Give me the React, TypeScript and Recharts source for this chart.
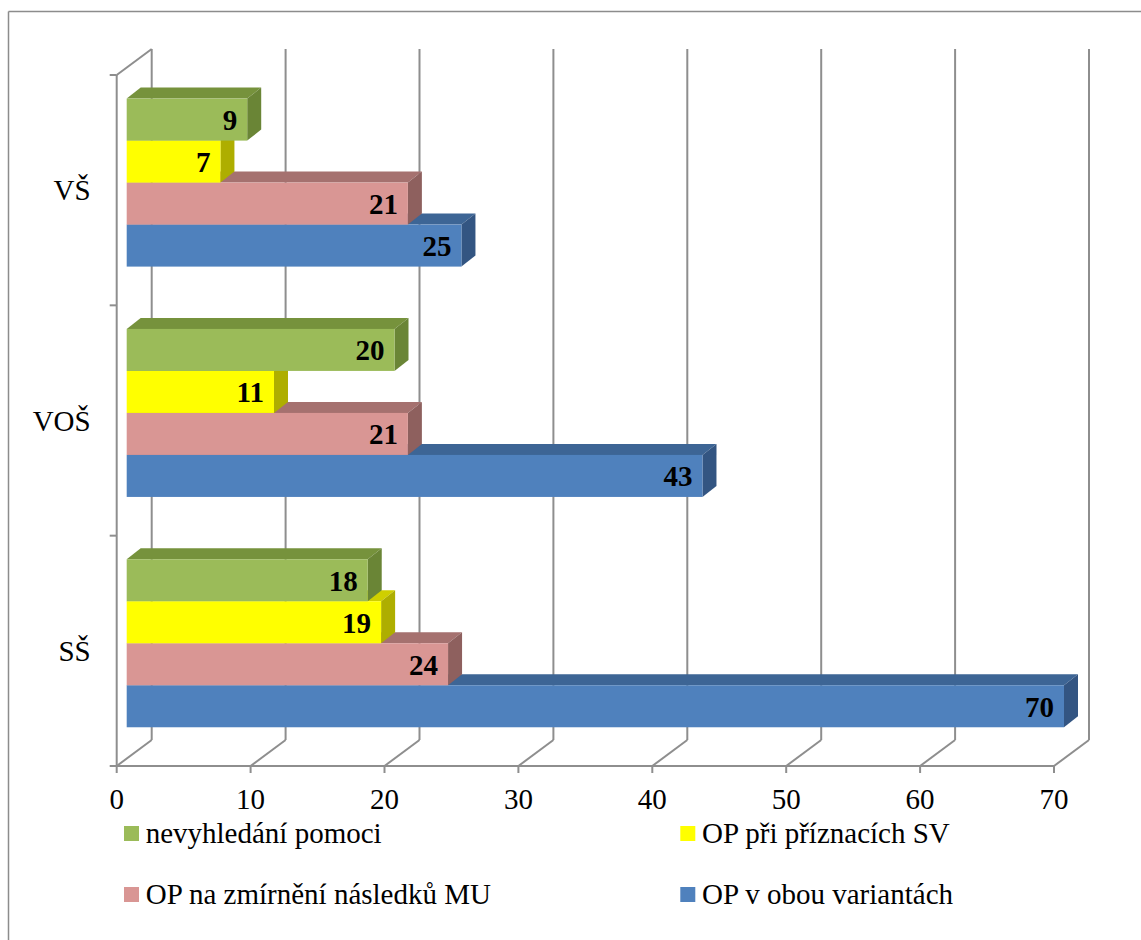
import React from "react";
import { BarChart, Bar, XAxis, YAxis, CartesianGrid, LabelList } from "recharts";

const CATEGORIES = ["VŠ", "VOŠ", "SŠ"];
const NEVYHLEDANI = [9, 20, 18];
const PRI_PRIZNACICH = [7, 11, 19];
const ZMIRNENI = [21, 21, 24];
const OBOU_VARIANTY = [25, 43, 70];
const X_TICKS = [0, 10, 20, 30, 40, 50, 60, 70];

const SERIES = [
  { key: "nevyhledani", name: "nevyhledání pomoci", values: NEVYHLEDANI, front: "#9BBB59", top: "#76923C", side: "#6A8536" },
  { key: "priznaky", name: "OP při příznacích SV", values: PRI_PRIZNACICH, front: "#FFFF00", top: "#CFCF00", side: "#AEAE00" },
  { key: "zmirneni", name: "OP na zmírnění následků MU", values: ZMIRNENI, front: "#D99694", top: "#A5716F", side: "#8E605E" },
  { key: "obou", name: "OP v obou variantách", values: OBOU_VARIANTY, front: "#4F81BD", top: "#3D6595", side: "#335582" },
];

const data = CATEGORIES.map((cat, i) => {
  const row: Record<string, string | number> = { cat };
  SERIES.forEach((s) => (row[s.key] = s.values[i]));
  return row;
});

const FONT = '"Liberation Serif", "Times New Roman", serif';
const GRID = "#8E8E8E";
// 3D offsets: bar depth, front plane and back wall relative to the bar plane
const DX = 14;
const DY = 11;
const FX = -10;
const FY = 7.4;
const BX = 25;
const BY = -18.6;

function Bar3D(props: any) {
  const { x, y, width, height, colors } = props;
  if (!width || width <= 0) return null;
  const x2 = x + width;
  const y2 = y + height;
  return (
    <g>
      <polygon points={`${x},${y} ${x + DX},${y - DY} ${x2 + DX},${y - DY} ${x2},${y}`} fill={colors.top} />
      <polygon points={`${x2},${y} ${x2 + DX},${y - DY} ${x2 + DX},${y2 - DY} ${x2},${y2}`} fill={colors.side} />
      <rect x={x} y={y} width={width} height={height} fill={colors.front} />
    </g>
  );
}

function FrameLine(props: any) {
  const { x1, y1, y2, index, x, width } = props;
  const st = { stroke: GRID, strokeWidth: 2, fill: "none" };
  const extra: React.ReactNode[] = [];
  if (index === 0) {
    const left = x1 + FX;
    extra.push(<line key="fl" x1={left} y1={y1 + FY} x2={left} y2={y2 + FY} {...st} />);
    extra.push(<line key="td" x1={left} y1={y1 + FY} x2={x1 + BX} y2={y1 + BY} {...st} />);
    extra.push(<line key="ff" x1={left} y1={y2 + FY} x2={x + width + FX} y2={y2 + FY} {...st} />);
    for (let k = 0; k <= CATEGORIES.length; k++) {
      const ty = y1 + ((y2 - y1) * k) / CATEGORIES.length + FY;
      extra.push(<line key={`lt${k}`} x1={left - 7} y1={ty} x2={left} y2={ty} {...st} />);
    }
  }
  return (
    <g>
      <line x1={x1 + BX} y1={y1 + BY} x2={x1 + BX} y2={y2 + BY} {...st} />
      <line x1={x1 + FX} y1={y2 + FY} x2={x1 + BX} y2={y2 + BY} {...st} />
      <line x1={x1 + FX} y1={y2 + FY} x2={x1 + FX} y2={y2 + FY + 7} {...st} />
      {extra}
    </g>
  );
}

function XTick(props: any) {
  const { x, y, payload } = props;
  return (
    <text x={x + FX} y={y + 50.4} textAnchor="middle" fontFamily={FONT} fontSize={29} fill="#000">
      {payload.value}
    </text>
  );
}

function YTick(props: any) {
  const { x, y, payload } = props;
  return (
    <text x={x - 36} y={y + FY + 10} textAnchor="end" fontFamily={FONT} fontSize={29} fill="#000">
      {payload.value}
    </text>
  );
}

export default function App() {
  const drawOrder = [...SERIES].reverse();
  return (
    <div style={{ position: "absolute", left: 0, top: 0, width: 1141, height: 940, background: "#fff" }}>
      <BarChart
        width={1141}
        height={940}
        data={data}
        layout="vertical"
        barSize={42}
        barGap={-84}
        margin={{ top: 67.6, right: 77, bottom: 141.4, left: 26.7 }}
      >
        <CartesianGrid horizontal={false} vertical={(p: any) => <FrameLine key={p.key} {...p} />} />
        <XAxis
          type="number"
          domain={[0, 70]}
          ticks={X_TICKS}
          height={40}
          axisLine={false}
          tickLine={false}
          tickSize={0}
          tickMargin={0}
          tick={<XTick />}
        />
        <YAxis
          type="category"
          dataKey="cat"
          width={100}
          axisLine={false}
          tickLine={false}
          tickSize={0}
          tickMargin={0}
          tick={<YTick />}
        />
        {drawOrder.map((s) => (
          <Bar
            key={s.key}
            dataKey={s.key}
            name={s.name}
            fill={s.front}
            isAnimationActive={false}
            shape={(p: any) => <Bar3D {...p} colors={s} />}
          >
            <LabelList
              dataKey={s.key}
              position="insideRight"
              offset={10}
              fill="#000"
              fontFamily={FONT}
              fontSize={29}
              fontWeight="bold"
            />
          </Bar>
        ))}
      </BarChart>
      <svg
        width={1141}
        height={940}
        style={{ position: "absolute", left: 0, top: 0, pointerEvents: "none" }}
      >
        <line x1={8.5} y1={11.5} x2={8.5} y2={940} stroke="#8C8C8C" strokeWidth={1.5} />
        <line x1={8.5} y1={11.5} x2={1141} y2={11.5} stroke="#8C8C8C" strokeWidth={1.5} />
        {SERIES.map((s, i) => {
          const lx = i % 2 === 0 ? 124 : 680.3;
          const ly = i < 2 ? 826 : 887;
          return (
            <g key={s.key}>
              <rect x={lx} y={ly} width={15} height={15} fill={s.front} />
              <text x={lx + 21.7} y={ly + 17} fontFamily={FONT} fontSize={29} fill="#000">
                {s.name}
              </text>
            </g>
          );
        })}
      </svg>
    </div>
  );
}
